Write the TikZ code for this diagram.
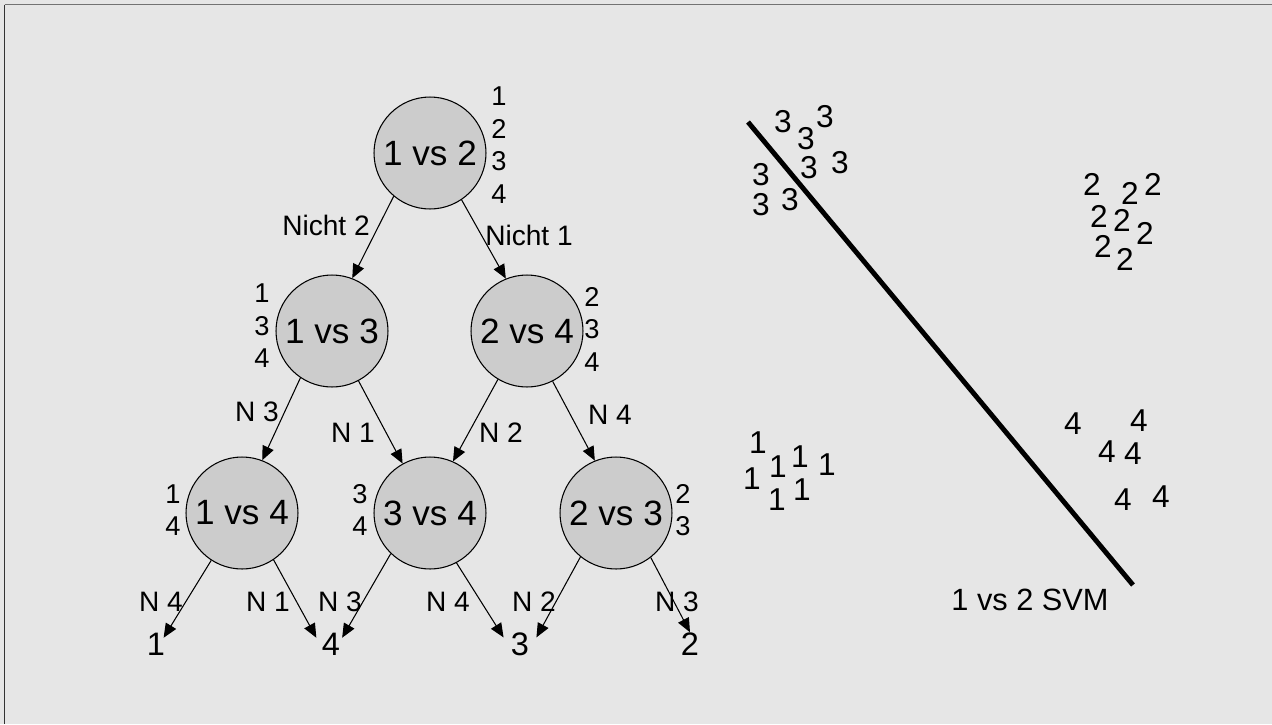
\documentclass[tikz,border=0pt]{standalone}
\usepackage{fontspec}
\setmainfont{Liberation Sans}
\usetikzlibrary{arrows.meta}
\definecolor{bggray}{HTML}{E6E6E6}
\definecolor{nodegray}{HTML}{CCCCCC}
\tikzset{
  test/.style    = {circle, draw, line width=0.6pt, fill=nodegray, minimum size=2.24cm, inner sep=0pt, font=\fontsize{20}{24}\selectfont},
  classes/.style = {align=center, inner sep=0pt, font=\fontsize{15.5}{18.5}\selectfont},
  lbl/.style     = {inner sep=0pt, font=\fontsize{16}{19}\selectfont},
  leaf/.style    = {inner sep=0pt, font=\fontsize{18.5}{21}\selectfont},
  sample/.style  = {inner sep=0pt, font=\fontsize{18}{21}\selectfont},
  arr/.style     = {-{Triangle[length=8pt,width=6.8pt]}, line width=0.6pt}
}

\begin{document}
\begin{tikzpicture}[x=0.02cm, y=-0.02cm]
        \fill[bggray] (0,0) rectangle (1272,724);
        \useasboundingbox (0,0) rectangle (1272,724);
        \draw[line width=1pt, black!55] (4.5,4.5) -- (1272,4.5);
        \draw[line width=1.1pt, black!80] (4.5,4.5) -- (4.5,724);

        % decision tree
        \node[test] (v12) at (430,153) {1 vs 2};
        \node[test] (v13) at (332,331) {1 vs 3};
        \node[test] (v24) at (527,331) {2 vs 4};
        \node[test] (v14) at (242,513) {1 vs 4};
        \node[test] (v34) at (430,513) {3 vs 4};
        \node[test] (v23) at (616,513) {2 vs 3};

        \node[classes] (c12) at (499,145) {1\\2\\3\\4};
        \node[classes] (c13) at (262,326) {1\\3\\4};
        \node[classes] (c24) at (592,329) {2\\3\\4};
        \node[classes] (c14) at (173,510) {1\\4};
        \node[classes] (c34) at (360,510) {3\\4};
        \node[classes] (c23) at (683,510) {2\\3};

        \node[leaf] (l1) at (156,644) {1};
        \node[leaf] (l4) at (331,644) {4};
        \node[leaf] (l3) at (520,644) {3};
        \node[leaf] (l2) at (690,644) {2};

        \draw[arr] (v12.230) -- (v13.69);
        \draw[arr] (v12.304) -- (v24.112);
        \draw[arr] (v13.236) -- (v14.69);
        \draw[arr] (v13.298) -- (v34.119);
        \draw[arr] (v24.239) -- (v34.66);
        \draw[arr] (v24.297) -- (v23.112);
        \draw[arr] (v14.237) -- ([xshift=-1pt, yshift=-3pt]l1.north east);
        \draw[arr] (v14.304) -- ([xshift=-3pt, yshift=-3pt]l4.north west);
        \draw[arr] (v34.226) -- ([xshift=1pt, yshift=-3pt]l4.north east);
        \draw[arr] (v34.298) -- ([xshift=-4pt, yshift=-3pt]l3.north west);
        \draw[arr] (v23.231) -- ([xshift=4pt, yshift=-3pt]l3.north east);
        \draw[arr] (v23.308) -- (l2.north);

        \node[lbl] (e1) at (326,225) {Nicht 2};
        \node[lbl] (e2) at (529,235) {Nicht 1};
        \node[lbl] (e3) at (257,412) {N 3};
        \node[lbl] (e4) at (353,433) {N 1};
        \node[lbl] (e5) at (501,433) {N 2};
        \node[lbl] (e6) at (610,415) {N 4};
        \node[lbl] (e7) at (161,602) {N 4};
        \node[lbl] (e8) at (268,602) {N 1};
        \node[lbl] (e9) at (340,602) {N 3};
        \node[lbl] (e10) at (448,602) {N 4};
        \node[lbl] (e11) at (534,602) {N 2};
        \node[lbl] (e12) at (677,602) {N 3};

        % samples and separating line
        \foreach \x/\y [count=\i] in {783/122, 825/117, 806/139, 809/168, 840/163, 761/175, 761/205, 790/200}
          \node[sample] (s3\i) at (\x,\y) {3};
        \foreach \x/\y [count=\i] in {1092/184, 1130/193, 1153/184, 1099/216, 1122/220, 1145/233, 1103/246, 1125/259}
          \node[sample] (s2\i) at (\x,\y) {2};
        \foreach \x/\y [count=\i] in {758/443, 778/467, 800/457, 827/465, 752/479, 777/500, 802/490}
          \node[sample] (s1\i) at (\x,\y) {1};
        \foreach \x/\y [count=\i] in {1073/424, 1139/421, 1107/452, 1133/454, 1123/500, 1161/497}
          \node[sample] (s4\i) at (\x,\y) {4};

        \coordinate (svmA) at (748,122);
        \coordinate (svmB) at (1133,585);
        \draw[line width=2.8pt] (svmA) -- (svmB);
        \node[sample, font=\fontsize{17.5}{21}\selectfont] (svm) at (1030,600) {1 vs 2 SVM};
      \end{tikzpicture}
\end{document}
